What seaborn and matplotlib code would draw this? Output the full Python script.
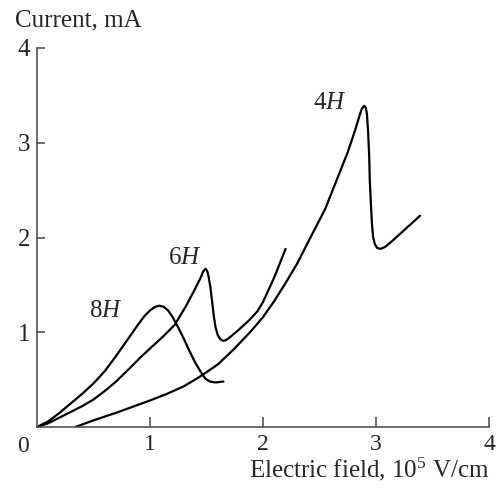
import numpy as np
import pandas as pd
import matplotlib
matplotlib.use("Agg")
import matplotlib.pyplot as plt
import seaborn as sns

# Current-field characteristics of SiC polytypes
x_8h = [0.0, 0.1, 0.2, 0.3, 0.4, 0.5, 0.6, 0.7, 0.8, 0.9, 0.95, 1.0, 1.04, 1.08,
        1.12, 1.16, 1.20, 1.25, 1.30, 1.35, 1.40, 1.45, 1.49, 1.53, 1.58, 1.65]
y_8h = [0.0, 0.06, 0.15, 0.25, 0.35, 0.46, 0.59, 0.75, 0.92, 1.09, 1.17, 1.23, 1.265, 1.28,
        1.27, 1.23, 1.16, 1.05, 0.93, 0.80, 0.68, 0.58, 0.51, 0.48, 0.47, 0.48]

x_6h = [0.0, 0.1, 0.2, 0.3, 0.4, 0.5, 0.6, 0.7, 0.82, 0.92, 1.02, 1.12, 1.22,
        1.32, 1.40, 1.45, 1.47, 1.49, 1.505, 1.52, 1.535, 1.55, 1.565, 1.58,
        1.60, 1.62, 1.645, 1.67, 1.70, 1.78, 1.88, 1.95, 2.0, 2.1, 2.20]
y_6h = [0.0, 0.04, 0.10, 0.16, 0.22, 0.29, 0.38, 0.48, 0.62, 0.74, 0.85, 0.96, 1.08,
        1.28, 1.46, 1.58, 1.64, 1.67, 1.65, 1.58, 1.47, 1.32, 1.17, 1.05,
        0.97, 0.93, 0.91, 0.915, 0.94, 1.02, 1.13, 1.22, 1.32, 1.58, 1.88]

x_4h = [0.34, 0.5, 0.7, 0.85, 1.0, 1.15, 1.3, 1.44, 1.6, 1.75, 1.9, 2.0,
        2.1, 2.2, 2.3, 2.42, 2.55, 2.65, 2.75, 2.82, 2.85, 2.875, 2.895, 2.91,
        2.92, 2.93, 2.94, 2.945, 2.955, 2.965, 2.975, 2.99, 3.01, 3.04, 3.08,
        3.15, 3.27, 3.39]
y_4h = [0.0, 0.07, 0.15, 0.215, 0.28, 0.35, 0.43, 0.53, 0.66, 0.83, 1.02, 1.16,
        1.33, 1.52, 1.72, 2.0, 2.3, 2.6, 2.9, 3.15, 3.27, 3.36, 3.39, 3.37,
        3.30, 3.12, 2.85, 2.6, 2.35, 2.13, 2.0, 1.93, 1.89, 1.88, 1.90,
        1.97, 2.1, 2.23]

labels = ["8", "6", "4"]
label_pos = [(0.61, 1.22), (1.31, 1.78), (2.59, 3.42)]
x_ticks = [1, 2, 3, 4]
y_ticks = [1, 2, 3, 4]

frames = []
for lab, xs, ys in zip(labels, [x_8h, x_6h, x_4h], [y_8h, y_6h, y_4h]):
    frames.append(pd.DataFrame({"field": xs, "current": ys, "polytype": lab + "H"}))
df = pd.concat(frames, ignore_index=True)

sns.set_theme(style="ticks")
plt.rcParams["font.family"] = ["Liberation Serif", "DejaVu Serif"]
plt.rcParams["mathtext.fontset"] = "custom"
plt.rcParams["mathtext.rm"] = "Liberation Serif"
plt.rcParams["mathtext.it"] = "Liberation Serif:italic"

fs = 18
tick_fs = 17
fig = plt.figure(figsize=(4.99, 4.93), dpi=100)
ax = fig.add_axes([37 / 499, 1 - 427 / 493, 452 / 499, 379 / 493])

sns.lineplot(data=df, x="field", y="current", hue="polytype", units="polytype",
             estimator=None, sort=False, palette=["black"] * 3, legend=False,
             linewidth=1.6, solid_joinstyle="round", solid_capstyle="round", ax=ax)

ax.set_xlim(0, 4)
ax.set_ylim(0, 4)
ax.set_xticks(x_ticks)
ax.set_yticks(y_ticks)
ax.set_xticklabels([str(t) for t in x_ticks], fontsize=tick_fs)
ax.set_yticklabels([str(t) for t in y_ticks], fontsize=fs)
ax.tick_params(axis="x", direction="in", length=7, width=1.1, color="#444444", pad=5)
ax.tick_params(axis="y", direction="in", length=6, width=1.1, color="#444444", pad=5)
for side in ["top", "right"]:
    ax.spines[side].set_visible(False)
for side in ["left", "bottom"]:
    ax.spines[side].set_color("#444444")
    ax.spines[side].set_linewidth(1.1)
ax.set_xlabel("")
ax.set_ylabel("")

# shared origin label at the corner
ax.text(-0.12, -0.21, "0", fontsize=tick_fs, ha="center", va="center", clip_on=False)

for lab, (lx, ly) in zip(labels, label_pos):
    ax.text(lx, ly, lab + r"$\mathit{H}$", fontsize=fs, ha="center", va="center")

fig.text(489 / 499, 1 - 477 / 493, r"Electric field, 10$^5$ V/cm", fontsize=fs,
         ha="right", va="baseline")
fig.text(15 / 499, 1 - 26 / 493, "Current, mA", fontsize=fs, ha="left", va="baseline")

fig.savefig("out.png", dpi=100)
